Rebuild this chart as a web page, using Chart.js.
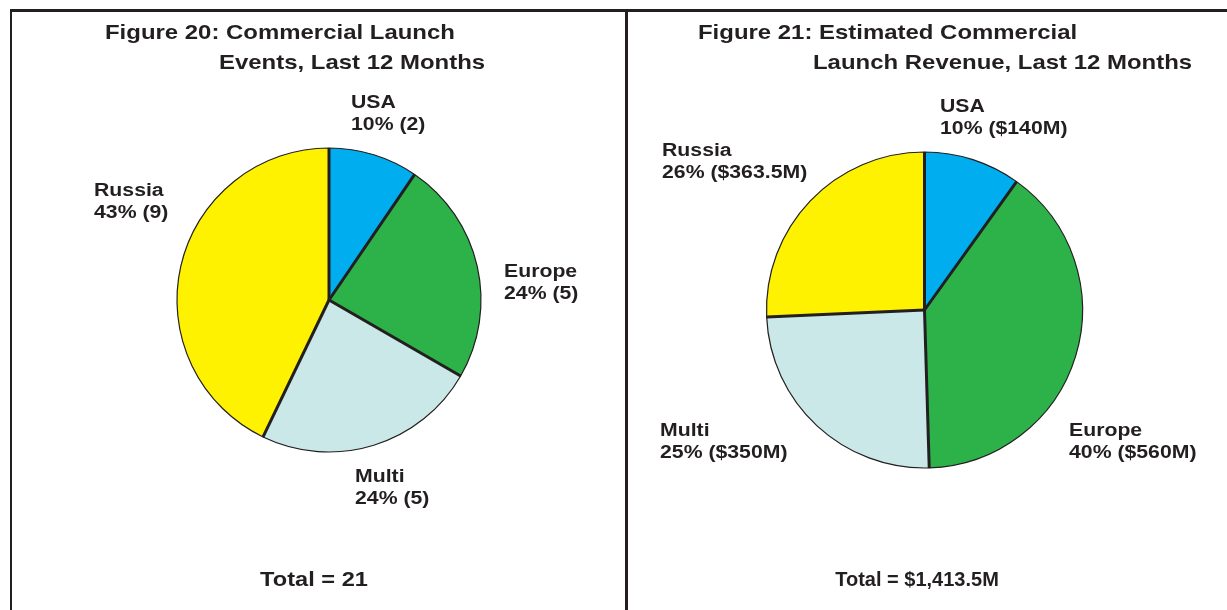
<!DOCTYPE html>
<html>
<head>
<meta charset="utf-8">
<title>Commercial Launch Events and Revenue</title>
<script src="https://cdn.jsdelivr.net/npm/chart.js@4.4.1/dist/chart.umd.min.js"></script>
<style>
  html, body { margin: 0; padding: 0; background: #fff; }
  #page { position: relative; width: 1227px; height: 610px; overflow: hidden; }
  .panel { position: absolute; top: 0; height: 610px; }
  .rule { position: absolute; background: #231f20; }
</style>
</head>
<body>
<div id="page">
  <div class="panel" style="left:0;width:626px"><canvas id="eventsChart" width="626" height="610"></canvas></div>
  <div class="panel" style="left:626px;width:601px"><canvas id="revenueChart" width="601" height="610"></canvas></div>
  <!-- frame lines -->
  <div class="rule" style="left:10px;top:9px;width:1217px;height:2.5px"></div>
  <div class="rule" style="left:10px;top:9px;width:2px;height:601px"></div>
  <div class="rule" style="left:625px;top:9px;width:2.5px;height:601px"></div>
</div>
<script>
// regions, in drawing order (clockwise from 12 o'clock)
const regions = ['USA', 'Europe', 'Multi', 'Russia'];
const regionColors = ['#00aeef', '#2db24a', '#cbe8e8', '#fff200'];

// Figure 20: launch events, last 12 months
const launchEvents = [2, 5, 5, 9];
// Figure 21: estimated launch revenue ($M), last 12 months
const launchRevenue = [140, 560, 350, 363.5];

const ink = '#231f20';
const font = '"Liberation Sans", Arial, Helvetica, sans-serif';

function pct(v, arr) {
  const total = arr.reduce((a, b) => a + b, 0);
  return Math.round(v / total * 100) + '%';
}

function money(v) {
  return '$' + v.toLocaleString('en-US', { maximumFractionDigits: 1 }) + 'M';
}

// Helvetica-style wide bold: stretch the text horizontally
function wideText(ctx, text, x, y, sx) {
  ctx.save();
  ctx.translate(x, y);
  ctx.scale(sx, 1);
  ctx.fillText(text, 0, 0);
  ctx.restore();
}

// titles, slice labels and total line drawn on the canvas
const textPlugin = {
  id: 'panelText',
  afterDatasetsDraw(chart, args, opts) {
    const ctx = chart.ctx;
    const meta = chart.getDatasetMeta(0);

    // thick separators between slices
    ctx.save();
    ctx.strokeStyle = ink;
    ctx.lineWidth = 3;
    meta.data.forEach(arc => {
      const p = arc.getProps(['x', 'y', 'startAngle', 'outerRadius'], true);
      ctx.beginPath();
      ctx.moveTo(p.x, p.y);
      ctx.lineTo(p.x + Math.cos(p.startAngle) * p.outerRadius, p.y + Math.sin(p.startAngle) * p.outerRadius);
      ctx.stroke();
    });
    ctx.restore();

    ctx.save();
    ctx.fillStyle = ink;
    ctx.textAlign = 'left';
    ctx.textBaseline = 'middle';

    ctx.font = 'bold 21px ' + font;
    opts.title.forEach(t => wideText(ctx, t.text, t.x, t.y, 1.14));

    ctx.font = 'bold 18px ' + font;
    const data = chart.data.datasets[0].data;
    chart.data.labels.forEach((name, i) => {
      const pos = opts.labelPos[i];
      wideText(ctx, name, pos[0], pos[1], 1.18);
      wideText(ctx, pct(data[i], data) + ' (' + opts.fmt(data[i]) + ')', pos[0], pos[1] + 22, 1.18);
    });

    ctx.font = 'bold 20px ' + font;
    ctx.textAlign = 'center';
    wideText(ctx, opts.total, opts.totalPos[0], opts.totalPos[1], opts.totalScale);
    ctx.restore();
  }
};

function makePie(id, values, radius, padding, text) {
  return new Chart(document.getElementById(id), {
    type: 'pie',
    data: {
      labels: regions,
      datasets: [{
        data: values,
        backgroundColor: regionColors,
        borderColor: ink,
        borderWidth: 1.2
      }]
    },
    options: {
      responsive: false,
      animation: false,
      radius: radius,
      layout: { padding: padding },
      plugins: {
        legend: { display: false },
        tooltip: { enabled: false },
        panelText: text
      }
    },
    plugins: [textPlugin]
  });
}

makePie('eventsChart', launchEvents, 152,
  { left: 169, right: 137, top: 140, bottom: 150 },
  {
    title: [
      { text: 'Figure 20: Commercial Launch', x: 105, y: 33 },
      { text: 'Events, Last 12 Months', x: 219, y: 63 }
    ],
    labelPos: [[351, 103], [504, 272], [355, 477], [94, 191]],
    fmt: v => String(v),
    total: 'Total = ' + launchEvents.reduce((a, b) => a + b, 0),
    totalPos: [314, 580],
    totalScale: 1.18
  });

makePie('revenueChart', launchRevenue, 158,
  { left: 138.5, right: 142.5, top: 150, bottom: 140 },
  {
    title: [
      { text: 'Figure 21: Estimated Commercial', x: 72, y: 33 },
      { text: 'Launch Revenue, Last 12 Months', x: 187, y: 63 }
    ],
    labelPos: [[314, 107], [443, 431], [34, 431], [36, 151]],
    fmt: money,
    total: 'Total = ' + money(launchRevenue.reduce((a, b) => a + b, 0)),
    totalPos: [291, 580],
    totalScale: 1.0
  });
</script>
</body>
</html>
